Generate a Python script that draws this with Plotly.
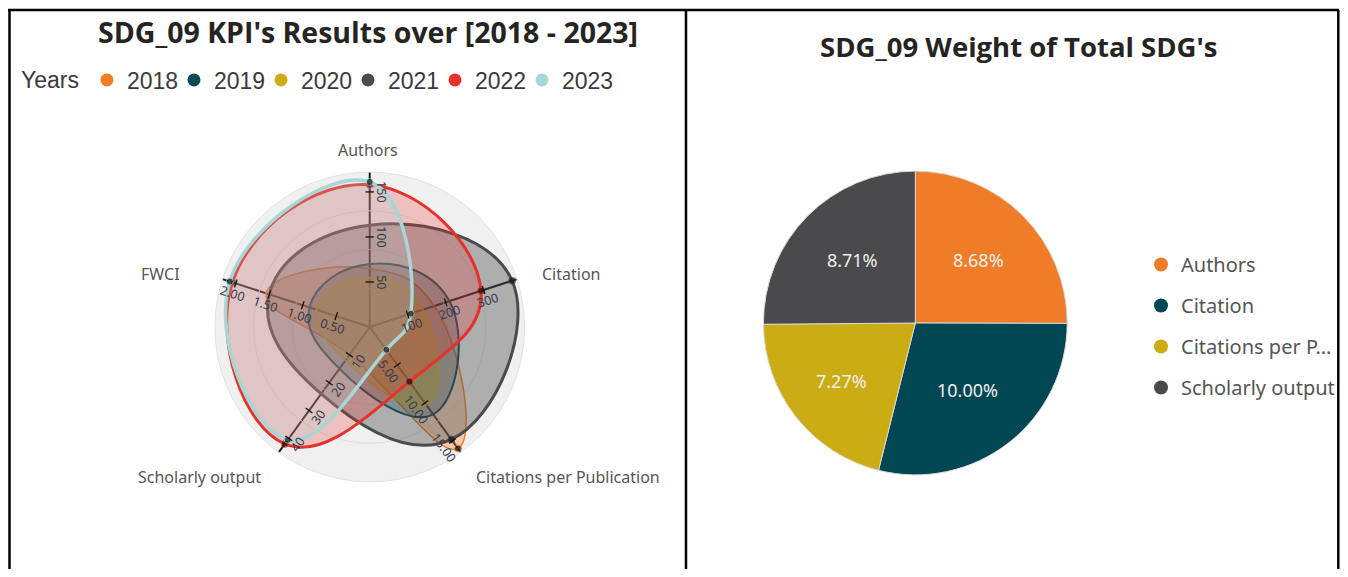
import math
import plotly.graph_objects as go

# page has an 8px body margin, so the figure is 1332x561 and starts at (8, 8)
OFF = 8
W, H = 1348 - 2 * OFF, 577 - 2 * OFF

# ---------------- data ----------------
kpis = ["Authors", "Citation", "Citations per Publication", "Scholarly output", "FWCI"]
years = ["2018", "2019", "2020", "2021", "2022", "2023"]
vals_2018 = [65, 170, 16.0, 10, 1.55]
vals_2019 = [70, 210, 11.5, 15, 0.90]
vals_2020 = [55, 140, 10.3, 12, 0.80]
vals_2021 = [113, 375, 14.8, 24, 1.50]
vals_2022 = [158, 293, 7.2, 42, 2.05]
vals_2023 = [161, 108, 3.0, 40.5, 2.09]
year_values = [vals_2018, vals_2019, vals_2020, vals_2021, vals_2022, vals_2023]

axis_max = [172, 388, 16.5, 45, 2.2]
ticks_authors = [50, 100, 150]
ticks_citation = [100, 200, 300]
ticks_cpp = [5, 10, 15]
ticks_output = [10, 20, 30, 40]
ticks_fwci = [0.5, 1.0, 1.5, 2.0]
axis_ticks = [ticks_authors, ticks_citation, ticks_cpp, ticks_output, ticks_fwci]
tick_formats = ["{:.0f}", "{:.0f}", "{:.2f}", "{:.0f}", "{:.2f}"]

weight_labels = ["Authors", "Citation", "Citations per Publication", "Scholarly output"]
weight_values = [8.68, 10.00, 7.27, 8.71]

# ---------------- styles ----------------
year_colors = ["#F07C28", "#0B4A57", "#CDAC17", "#4B4B4D", "#E5322B", "#A8D5D6"]
fill_alpha = [0.30, 0.30, 0.40, 0.40, 0.25, 0.20]
line_widths = [1.5, 2.0, 1.5, 3.0, 3.0, 3.5]
dot_sizes = [
    [0, 0, 7, 0, 0],
    [0, 0, 0, 0, 0],
    [0, 0, 0, 0, 0],
    [0, 7, 7, 0, 0],
    [7, 7, 7, 7, 7],
    [7, 7, 7, 7, 7],
]
pie_colors = ["#F07C28", "#004753", "#CCAC14", "#4A4A4C"]

# radar geometry (page pixels)
CX, CY, R = 370, 327, 155
# category label placement relative to the end of each axis (pixels) and anchors
cat_label_offsets = [(-2, -22), (23, -5), (13, 25), (-16, 25), (-40, -5)]
cat_label_anchor = ["center", "left", "left", "right", "right"]
# pie geometry (page pixels)
PX, PY, PR = 916, 323, 152


def px(x):
    return (x - OFF) / W


def py(y):
    return 1 - (y - OFF) / H


def rgba(hex_color, a):
    h = hex_color.lstrip("#")
    return "rgba({},{},{},{})".format(int(h[0:2], 16), int(h[2:4], 16), int(h[4:6], 16), a)


def norm(k, v):
    return v / axis_max[k]


n = len(kpis)
fig = go.Figure()

# radar series
for yi, (yr, vals) in enumerate(zip(years, year_values)):
    r = [norm(k, v) for k, v in enumerate(vals)]
    sizes = dot_sizes[yi] + [0]
    fig.add_trace(go.Scatterpolar(
        r=r + [r[0]], theta=kpis + [kpis[0]],
        mode="lines+markers",
        line=dict(color=year_colors[yi], width=line_widths[yi], shape="spline", smoothing=1.3),
        marker=dict(color="#111111", size=sizes),
        fill="toself", fillcolor=rgba(year_colors[yi], fill_alpha[yi]),
        name=yr, showlegend=False, hoverinfo="name+theta",
    ))

# tick marks on each KPI axis
for k in range(n):
    ang = k * 360.0 / n
    fig.add_trace(go.Scatterpolar(
        r=[norm(k, t) for t in axis_ticks[k]], theta=[kpis[k]] * len(axis_ticks[k]),
        mode="markers",
        marker=dict(symbol="line-ew", size=6, angle=ang,
                    line=dict(color="#111111", width=1.3)),
        showlegend=False, hoverinfo="skip",
    ))

# legend proxies (years)
for yi, yr in enumerate(years):
    fig.add_trace(go.Scatterpolar(
        r=[None], theta=[None], mode="markers",
        marker=dict(color=year_colors[yi], size=13),
        name=yr, legend="legend", showlegend=True,
    ))
# blank spacer entry so the last year's text is not clipped
fig.add_trace(go.Scatterpolar(
    r=[None], theta=[None], mode="markers",
    marker=dict(color="rgba(0,0,0,0)", size=1),
    name="\u00a0", legend="legend", showlegend=True, hoverinfo="skip",
))

# pie
fig.add_trace(go.Pie(
    labels=weight_labels, values=weight_values, sort=False, direction="clockwise",
    marker=dict(colors=pie_colors, line=dict(color="#d8d8d8", width=1)),
    texttemplate="%{value:.2f}%", textposition="inside", insidetextorientation="horizontal",
    textfont=dict(family="Noto Sans", size=18, color="#eeeeee"),
    domain=dict(x=[px(PX - PR), px(PX + PR)], y=[py(PY + PR), py(PY - PR)]),
    showlegend=False, hoverinfo="label+value",
))

# pie legend proxies
for i, lab in enumerate(weight_labels):
    shown = lab if len(lab) <= 16 else lab[:15] + "..."
    fig.add_trace(go.Scatter(
        x=[None], y=[None], mode="markers",
        marker=dict(color=pie_colors[i], size=14),
        name=shown, legend="legend2", legendgroup=lab, showlegend=True,
    ))

annotations = []
# category labels at the end of each axis
for k in range(n):
    a = math.radians(k * 360.0 / n)
    ex = CX + R * math.sin(a) + cat_label_offsets[k][0]
    ey = CY - R * math.cos(a) + cat_label_offsets[k][1]
    annotations.append(dict(
        x=px(ex), y=py(ey), xref="paper", yref="paper", showarrow=False,
        text=kpis[k], xanchor=cat_label_anchor[k], yanchor="middle",
        font=dict(family="Noto Sans", size=16, color="#555555"),
    ))

# rotated tick labels along each axis
for k in range(n):
    a = math.radians(k * 360.0 / n)
    t = k * 360.0 / n - 90.0
    while t > 90:
        t -= 180
    while t <= -90:
        t += 180
    if k == 0:
        t = 90
        off = (1.0, 0.0)
    else:
        tr = math.radians(t)
        off = (-math.sin(tr), math.cos(tr))
    for tv in axis_ticks[k]:
        rp = norm(k, tv) * R
        x = CX + rp * math.sin(a) + off[0] * 11
        y = CY - rp * math.cos(a) + off[1] * 11
        annotations.append(dict(
            x=px(x), y=py(y), xref="paper", yref="paper", showarrow=False,
            text=tick_formats[k].format(tv), textangle=t,
            xanchor="center", yanchor="middle",
            font=dict(family="Noto Sans", size=12.5, color="#333a4a"),
        ))

annotations.append(dict(
    x=px(368), y=py(32), xref="paper", yref="paper", showarrow=False,
    text="<b>SDG_09 KPI's Results over [2018 - 2023]</b>", xanchor="center", yanchor="middle",
    font=dict(family="Open Sans", size=28.5, color="#252423"),
))
annotations.append(dict(
    x=px(1020), y=py(46), xref="paper", yref="paper", showarrow=False,
    text="<b>SDG_09 Weight of Total SDG's</b>", xanchor="center", yanchor="middle",
    font=dict(family="Open Sans", size=27.5, color="#252423"),
))

# panel borders
shapes = []


def line_px(x0, y0, x1, y1):
    shapes.append(dict(type="line", xref="paper", yref="paper",
                       x0=px(x0), y0=py(y0), x1=px(x1), y1=py(y1),
                       line=dict(color="#000000", width=2.5)))


line_px(8, 10, 1340, 10)
line_px(9.5, 10, 9.5, 577)
line_px(686.5, 10, 686.5, 577)
line_px(1339.3, 10, 1339.3, 577)

fig.update_layout(
    width=W, height=H,
    margin=dict(l=0, r=0, t=0, b=0),
    paper_bgcolor="white", plot_bgcolor="rgba(0,0,0,0)",
    polar=dict(
        domain=dict(x=[px(CX - R), px(CX + R)], y=[py(CY + R), py(CY - R)]),
        bgcolor="#f0f0f0",
        radialaxis=dict(range=[0, 1], tickvals=[0.25, 0.5, 0.75, 1.0], showticklabels=False,
                        ticks="", showline=False, gridcolor="#dedede", gridwidth=1),
        angularaxis=dict(type="category", categoryarray=kpis, rotation=90, direction="clockwise",
                         showgrid=True, gridcolor="#1a1a1a", gridwidth=1.5,
                         showline=True, linecolor="#e2e2e2", linewidth=1,
                         ticks="", showticklabels=False),
    ),
    xaxis=dict(visible=False), yaxis=dict(visible=False),
    legend=dict(orientation="h", x=px(19), y=py(80), xanchor="left", yanchor="middle",
                title=dict(text="Years", side="left",
                           font=dict(family="Liberation Sans", size=23, color="#3a3a3a")),
                font=dict(family="Liberation Sans", size=23, color="#3a3a3a"),
                entrywidth=42, entrywidthmode="pixels",
                itemsizing="trace", bgcolor="rgba(0,0,0,0)"),
    legend2=dict(orientation="v", x=px(1142), y=py(326), xanchor="left", yanchor="middle",
                 font=dict(family="Noto Sans", size=20, color="#555555"),
                 tracegroupgap=12, itemsizing="trace", bgcolor="rgba(0,0,0,0)"),
    annotations=annotations,
    shapes=shapes,
    showlegend=True,
)

fig.write_html("out.html")
